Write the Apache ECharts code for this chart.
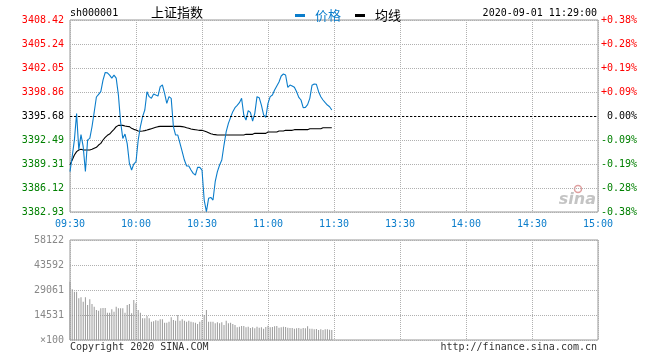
<!DOCTYPE html>
<html><head><meta charset="utf-8">
<script src="https://cdn.jsdelivr.net/npm/echarts@6/dist/echarts.min.js"></script>
<style>html,body{margin:0;padding:0;background:#fff}#c{width:660px;height:360px}</style>
</head><body><div id="c"></div>
<script>
// ---- data ----
const priceValues = [
  3388.3, 3390.3, 3392.5, 3396.0, 3391.2, 3393.2, 3391.6, 3388.3, 3392.5, 3392.7,
  3394.25, 3396.2, 3398.2, 3398.55, 3398.9, 3400.45, 3401.45, 3401.4, 3401.1, 3400.7,
  3401.1, 3400.7, 3398.46, 3394.9, 3392.7, 3393.28, 3392.0, 3389.4, 3388.5, 3389.3,
  3389.61, 3392.49, 3394.26, 3395.59, 3396.47, 3398.9, 3398.24, 3398.02, 3398.6, 3398.46,
  3398.33, 3399.57, 3399.79, 3398.68, 3397.36, 3398.24, 3398.02, 3394.26, 3393.15, 3393.15,
  3392.04, 3390.94, 3389.83, 3389.03, 3389.03, 3388.5, 3388.06, 3387.84, 3388.86, 3388.86,
  3388.5, 3384.52, 3382.97, 3384.74, 3384.87, 3384.52, 3386.95, 3388.28, 3389.17, 3389.83,
  3391.82, 3393.59, 3394.7, 3395.5, 3396.25, 3396.78, 3397.09, 3397.44, 3398.02, 3395.81,
  3395.14, 3396.38, 3396.16, 3395.01, 3396.03, 3398.24, 3398.11, 3397.13, 3395.81, 3395.5,
  3397.35, 3398.24, 3398.46, 3399.12, 3399.66, 3400.19, 3400.99, 3401.25, 3401.12, 3399.48,
  3399.79, 3399.66, 3399.48, 3398.9, 3398.15, 3397.8, 3396.78, 3396.82, 3397.18, 3398.02,
  3399.75, 3399.92, 3399.88, 3398.9, 3398.24, 3397.8, 3397.44, 3397.13, 3396.91, 3396.47
];
const avgValues = [
  3389.17, 3389.83, 3390.49, 3390.94, 3391.16, 3391.25, 3391.16, 3391.16, 3391.16, 3391.16,
  3391.25, 3391.38, 3391.51, 3391.82, 3392.04, 3392.49, 3392.84, 3393.11, 3393.28, 3393.59,
  3393.9, 3394.26, 3394.43, 3394.43, 3394.43, 3394.35, 3394.3, 3394.26, 3394.04, 3393.9,
  3393.81, 3393.68, 3393.64, 3393.68, 3393.73, 3393.81, 3393.9, 3393.99, 3394.08, 3394.17,
  3394.26, 3394.3, 3394.3, 3394.3, 3394.3, 3394.3, 3394.3, 3394.3, 3394.3, 3394.3,
  3394.3, 3394.26, 3394.21, 3394.12, 3394.04, 3393.95, 3393.9, 3393.86, 3393.81, 3393.77,
  3393.77, 3393.68, 3393.59, 3393.46, 3393.33, 3393.24, 3393.2, 3393.15, 3393.15, 3393.15,
  3393.15, 3393.15, 3393.15, 3393.15, 3393.15, 3393.15, 3393.15, 3393.15, 3393.15, 3393.15,
  3393.24, 3393.24, 3393.24, 3393.24, 3393.37, 3393.37, 3393.37, 3393.37, 3393.37, 3393.37,
  3393.55, 3393.55, 3393.55, 3393.55, 3393.55, 3393.68, 3393.68, 3393.68, 3393.77, 3393.77,
  3393.77, 3393.77, 3393.86, 3393.86, 3393.86, 3393.86, 3393.86, 3393.86, 3393.86, 3393.99,
  3393.99, 3393.99, 3393.99, 3393.99, 3393.99, 3394.12, 3394.12, 3394.12, 3394.12, 3394.12
];
const volumeValues = [
  33900, 29460, 28080, 28080, 24230, 24800, 22280, 24800, 20340, 23640,
  20920, 19380, 17440, 17050, 18410, 18600, 18600, 15890, 15890, 17820,
  16470, 19380, 18410, 18410, 18410, 15890, 20340, 20920, 15500, 23250,
  21310, 17440, 15890, 12590, 12590, 13950, 12590, 10650, 10900, 11500,
  11240, 12030, 12030, 10070, 10070, 10650, 13170, 11620, 11240, 14530,
  11240, 12030, 11240, 10650, 11240, 10650, 10260, 10070, 9300, 10650,
  11620, 14530, 17440, 10650, 10650, 10650, 9690, 10260, 9690, 10260,
  8720, 11240, 9690, 10070, 9300, 8720, 7360, 7750, 8140, 8140,
  7360, 7750, 6970, 7360, 6780, 7750, 7170, 7360, 6590, 7550,
  8330, 7360, 7550, 7940, 8140, 7170, 7360, 7750, 7550, 7170,
  6970, 6970, 6590, 6780, 6970, 6590, 6970, 6780, 7940, 6590,
  6590, 6200, 6390, 5810, 6200, 5810, 6200, 6200, 6000, 5810
];
const priceTickLabels = ['3382.93','3386.12','3389.31','3392.49','3395.68','3398.86','3402.05','3405.24','3408.42'];
const pctTickLabels = ['-0.38%','-0.28%','-0.19%','-0.09%','0.00%','+0.09%','+0.19%','+0.28%','+0.38%'];
const volTickLabels = ['×100','14531','29061','43592','58122'];
const prevClose = 3395.68;
const priceMin = 3382.93, priceMax = 3408.42;
const volMax = 58122;

// minute categories 09:30-11:30, 13:01-15:00
function hm(h, m) { return (h < 10 ? '0' : '') + h + ':' + (m < 10 ? '0' : '') + m; }
const times = [];
for (let i = 0; i <= 120; i++) { const t = 9 * 60 + 30 + i; times.push(hm(Math.floor(t / 60), t % 60)); }
for (let i = 1; i <= 120; i++) { const t = 13 * 60 + i; times.push(hm(Math.floor(t / 60), t % 60)); }

const BLUE = '#0b7dcb';
const MONO = '"DejaVu Sans Mono", "Liberation Mono", monospace';
const CJK = '"Noto Sans CJK SC", sans-serif';
const priceStep = (priceMax - priceMin) / 8;
const gridLine = { color: '#b0b0b0', type: [1, 1], width: 1 };
const richCols = {
  r: { color: '#ff0000', fontFamily: MONO, fontSize: 10 },
  g: { color: '#008000', fontFamily: MONO, fontSize: 10 },
  k: { color: '#000000', fontFamily: MONO, fontSize: 10 }
};
function colKey(i) { return i < 4 ? 'g' : (i === 4 ? 'k' : 'r'); }

const chart = echarts.init(document.getElementById('c'), null, { renderer: 'canvas' });
chart.setOption({
  animation: false,
  backgroundColor: '#fff',
  grid: [
    { left: 70, top: 20, width: 528, height: 192, show: true, borderColor: '#999', borderWidth: 1 },
    { left: 70, top: 240, width: 528, height: 100, show: true, borderColor: '#999', borderWidth: 1 }
  ],
  legend: {
    left: 290, top: 4, icon: 'rect', itemWidth: 10, itemHeight: 3, itemGap: 14,
    selectedMode: false,
    textStyle: { fontSize: 13, fontFamily: CJK, padding: [0, 0, 0, 5] },
    data: [
      { name: '价格', textStyle: { color: BLUE } },
      { name: '均线', textStyle: { color: '#000' } }
    ]
  },
  xAxis: [
    {
      gridIndex: 0, type: 'category', data: times, boundaryGap: false,
      axisLine: { show: false }, axisTick: { show: false },
      axisLabel: { interval: 29, color: BLUE, fontFamily: MONO, fontSize: 10, margin: 7 },
      splitLine: { show: true, interval: 29, lineStyle: gridLine }
    },
    {
      gridIndex: 1, type: 'category', data: times, boundaryGap: false,
      axisLine: { show: false }, axisTick: { show: false }, axisLabel: { show: false },
      splitLine: { show: true, interval: 29, lineStyle: gridLine }
    }
  ],
  yAxis: [
    {
      gridIndex: 0, type: 'value', min: priceMin, max: priceMax, interval: priceStep,
      axisLine: { show: false }, axisTick: { show: false },
      splitLine: { show: true, lineStyle: gridLine },
      axisLabel: {
        margin: 6, rich: richCols,
        formatter: function (v) { const i = Math.round((v - priceMin) / priceStep); return '{' + colKey(i) + '|' + priceTickLabels[i] + '}'; }
      }
    },
    {
      gridIndex: 0, type: 'value', position: 'right', min: priceMin, max: priceMax, interval: priceStep,
      axisLine: { show: false }, axisTick: { show: false }, splitLine: { show: false },
      axisLabel: {
        margin: 39, align: 'right', rich: richCols,
        formatter: function (v) { const i = Math.round((v - priceMin) / priceStep); return '{' + colKey(i) + '|' + pctTickLabels[i] + '}'; }
      }
    },
    {
      gridIndex: 1, type: 'value', min: 0, max: volMax, interval: volMax / 4,
      axisLine: { show: false }, axisTick: { show: false },
      splitLine: { show: true, lineStyle: gridLine },
      axisLabel: {
        margin: 6, color: '#888', fontFamily: MONO, fontSize: 10,
        formatter: function (v) { return volTickLabels[Math.round(v / (volMax / 4))]; }
      }
    }
  ],
  series: [
    {
      name: '价格', type: 'line', xAxisIndex: 0, yAxisIndex: 0, data: priceValues,
      showSymbol: false, symbol: 'none', color: BLUE,
      lineStyle: { color: BLUE, width: 1.1 }, z: 4,
      markLine: {
        silent: true, symbol: 'none', label: { show: false },
        lineStyle: { color: '#000', type: [2, 2], width: 1 },
        data: [{ yAxis: prevClose }]
      }
    },
    {
      name: '均线', type: 'line', xAxisIndex: 0, yAxisIndex: 0, data: avgValues,
      showSymbol: false, symbol: 'none', color: '#000',
      lineStyle: { color: '#000', width: 1.1 }, z: 3
    },
    {
      name: 'vol', type: 'bar', xAxisIndex: 1, yAxisIndex: 2, data: volumeValues,
      barWidth: 1, itemStyle: { color: '#999' }
    }
  ],
  graphic: [
    { type: 'text', x: 70, y: 13, style: { text: 'sh000001', font: '10px ' + MONO, fill: '#000', align: 'left', verticalAlign: 'middle' } },
    { type: 'text', x: 151, y: 12, style: { text: '上证指数', font: '13px ' + CJK, fill: '#000', align: 'left', verticalAlign: 'middle' } },
    { type: 'text', x: 597, y: 13, style: { text: '2020-09-01 11:29:00', font: '10px ' + MONO, fill: '#000', align: 'right', verticalAlign: 'middle' } },
    { type: 'text', x: 70, y: 347, style: { text: 'Copyright 2020 SINA.COM', font: '10px ' + MONO, fill: '#333', align: 'left', verticalAlign: 'middle' } },
    { type: 'text', x: 597, y: 347, style: { text: 'http://finance.sina.com.cn', font: '10px ' + MONO, fill: '#333', align: 'right', verticalAlign: 'middle' } },
    { type: 'circle', shape: { cx: 578, cy: 189, r: 3.5 }, style: { fill: 'none', stroke: '#e0a0a0', lineWidth: 1.5 } },
    { type: 'text', x: 596, y: 200, style: { text: 'sina', font: 'italic bold 16px "DejaVu Sans", sans-serif', fill: '#c4c4c4', align: 'right', verticalAlign: 'middle' } }
  ]
});
</script>
</body></html>
